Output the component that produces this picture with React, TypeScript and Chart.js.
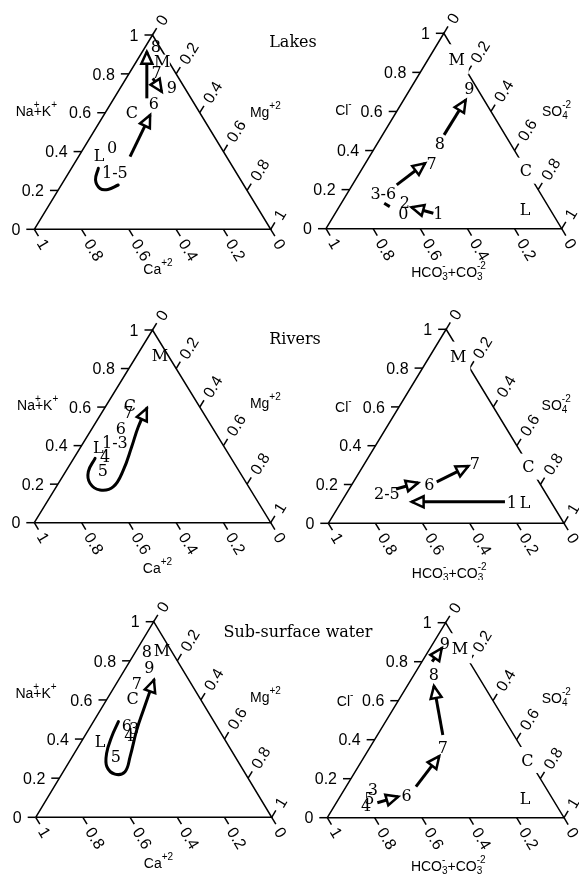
import React, { useEffect, useRef } from "react";
import { Chart, registerables } from "chart.js";
Chart.register(...registerables);

// ---------------- DATA ----------------
const tickValues = [0, 0.2, 0.4, 0.6, 0.8, 1];
const tickLabels = ["0", "0.2", "0.4", "0.6", "0.8", "1"];
const panelTitles = ["Lakes", "Rivers", "Sub-surface water"];

// Lakes — cations: fractions [Na+K (top), Mg (right)], Ca = remainder
const lakesCatLabels = ["8", "M", "7", "9", "6", "C", "L", "0", "1-5"];
const lakesCatNaK = [0.94, 0.863, 0.811, 0.731, 0.648, 0.605, 0.382, 0.425, 0.296];
const lakesCatMg = [0.044, 0.11, 0.112, 0.216, 0.182, 0.11, 0.083, 0.117, 0.193];
const lakesCatPaths = [
  [[0.674, 0.139], [0.914, 0.019]],
  [[0.777, 0.113], [0.708, 0.185]],
  [[0.374, 0.218], [0.588, 0.196]],
  [[0.314, 0.114], [0.254, 0.132], [0.21, 0.173], [0.205, 0.209], [0.228, 0.241]],
];
const lakesCatArrows = [true, true, true, false];

// Lakes — anions: fractions [Cl (top), SO4 (right)], HCO3+CO3 = remainder
const lakesAnLabels = ["M", "9", "8", "7", "C", "3-6", "2", "0", "1", "L"];
const lakesAnCl = [0.867, 0.719, 0.437, 0.335, 0.297, 0.184, 0.138, 0.079, 0.079, 0.099];
const lakesAnSO4 = [0.121, 0.249, 0.265, 0.281, 0.7, 0.151, 0.266, 0.289, 0.437, 0.795];
const lakesAnPaths = [
  [[0.224, 0.188], [0.335, 0.253]],
  [[0.48, 0.261], [0.659, 0.263]],
  [[0.079, 0.416], [0.11, 0.308]],
  [[0.13, 0.182], [0.113, 0.214]],
];
const lakesAnArrows = [true, true, true, false];

// Rivers — cations
const riversCatLabels = ["M", "C", "7", "6", "1-3", "L", "4", "5"];
const riversCatNaK = [0.87, 0.611, 0.576, 0.49, 0.42, 0.394, 0.343, 0.274];
const riversCatMg = [0.097, 0.099, 0.11, 0.121, 0.131, 0.074, 0.128, 0.153];
const riversCatPaths = [
  [[0.334, 0.09], [0.265, 0.096], [0.205, 0.133], [0.17, 0.193], [0.187, 0.241], [0.274, 0.24], [0.394, 0.215], [0.498, 0.191], [0.594, 0.179]],
];
const riversCatArrows = [true];

// Rivers — anions
const riversAnLabels = ["M", "7", "C", "6", "2-5", "1", "L"];
const riversAnCl = [0.859, 0.312, 0.292, 0.201, 0.155, 0.111, 0.111];
const riversAnSO4 = [0.122, 0.466, 0.703, 0.328, 0.171, 0.723, 0.779];
const riversAnPaths = [
  [[0.214, 0.353], [0.295, 0.447]],
  [[0.177, 0.199], [0.209, 0.277]],
  [[0.111, 0.694], [0.111, 0.298]],
];
const riversAnArrows = [true, true, true];

// Sub-surface water — cations
const subCatLabels = ["8", "M", "9", "7", "C", "6", "3", "4", "L", "5"];
const subCatNaK = [0.847, 0.855, 0.767, 0.685, 0.608, 0.472, 0.455, 0.421, 0.387, 0.31];
const subCatMg = [0.047, 0.107, 0.098, 0.086, 0.107, 0.15, 0.189, 0.186, 0.079, 0.185];
const subCatPaths = [
  [[0.489, 0.106], [0.412, 0.116], [0.327, 0.137], [0.259, 0.172], [0.221, 0.225], [0.233, 0.262], [0.31, 0.245], [0.446, 0.205], [0.549, 0.182], [0.702, 0.15]],
];
const subCatArrows = [true];

// Sub-surface water — anions
const subAnLabels = ["9", "M", "8", "7", "C", "3", "5", "4", "6", "L"];
const subAnCl = [0.894, 0.869, 0.737, 0.364, 0.296, 0.146, 0.1, 0.065, 0.116, 0.1];
const subAnSO4 = [0.05, 0.126, 0.082, 0.306, 0.697, 0.119, 0.128, 0.131, 0.277, 0.786];
const subAnPaths = [
  [[0.077, 0.173], [0.108, 0.246]],
  [[0.159, 0.295], [0.316, 0.315]],
  [[0.424, 0.276], [0.675, 0.113]],
  [[0.8, 0.043], [0.869, 0.049]],
];
const subAnArrows = [true, true, true, true];

// ---------------- STYLE / LAYOUT ----------------
const SERIF = "'DejaVu Serif', 'Liberation Serif', serif";
const SANS = "'Liberation Sans', Arial, Helvetica, sans-serif";
const TICK = 8;
const GAP = 5;
const SUP_RAISE = 8;

type Seg = { t?: string; sup?: string; sub?: string; noAdvance?: boolean };
const cationAxis: { left: Seg[]; right: Seg[]; bottom: Seg[] } = {
  left: [{ t: "Na" }, { sup: "+", noAdvance: true }, { t: "+K" }, { sup: "+" }],
  right: [{ t: "Mg" }, { sup: "+2" }],
  bottom: [{ t: "Ca" }, { sup: "+2" }],
};
const anionAxis: { left: Seg[]; right: Seg[]; bottom: Seg[] } = {
  left: [{ t: "Cl" }, { sup: "-" }],
  right: [{ t: "SO" }, { sub: "4", sup: "-2" }],
  bottom: [{ t: "HCO" }, { sub: "3", sup: "-" }, { t: "+CO" }, { sub: "3", sup: "-2" }],
};

interface Spec {
  key: string;
  axis: { left: Seg[]; right: Seg[]; bottom: Seg[] };
  labels: string[];
  tops: number[];
  rights: number[];
  paths: number[][][];
  arrows: boolean[];
  canvas: [number, number, number, number];
  tri: [number, number, number, number];
  titlePos: { left: [number, number]; right: [number, number]; bottom: [number, number] };
  boxes: Record<string, [number, number]>;
}

const anionBoxes: Record<string, [number, number]> = { M: [24, 30], C: [22, 26] };

const specs: Spec[] = [
  {
    key: "lc", axis: cationAxis, labels: lakesCatLabels, tops: lakesCatNaK, rights: lakesCatMg,
    paths: lakesCatPaths, arrows: lakesCatArrows,
    canvas: [0, 0, 290, 290], tri: [34.3, 270.7, 229.3, 194.3],
    titlePos: { left: [0.096, 0.609], right: [0.912, 0.605], bottom: [0.523, -0.204] },
    boxes: { M: [15, 14] },
  },
  {
    key: "la", axis: anionAxis, labels: lakesAnLabels, tops: lakesAnCl, rights: lakesAnSO4,
    paths: lakesAnPaths, arrows: lakesAnArrows,
    canvas: [290, 0, 289, 290], tri: [326, 561.7, 228.7, 195.4],
    titlePos: { left: [0.109, 0.607], right: [0.916, 0.604], bottom: [0.52, -0.223] },
    boxes: anionBoxes,
  },
  {
    key: "rc", axis: cationAxis, labels: riversCatLabels, tops: riversCatNaK, rights: riversCatMg,
    paths: riversCatPaths, arrows: riversCatArrows,
    canvas: [0, 290, 290, 290], tri: [34.3, 270.7, 522.7, 192.7],
    titlePos: { left: [0.1015, 0.611], right: [0.912, 0.621], bottom: [0.521, -0.235] },
    boxes: {},
  },
  {
    key: "ra", axis: anionAxis, labels: riversAnLabels, tops: riversAnCl, rights: riversAnSO4,
    paths: riversAnPaths, arrows: riversAnArrows,
    canvas: [290, 290, 289, 290], tri: [328.3, 564, 523.3, 194],
    titlePos: { left: [0.099, 0.601], right: [0.905, 0.61], bottom: [0.513, -0.256] },
    boxes: anionBoxes,
  },
  {
    key: "sc", axis: cationAxis, labels: subCatLabels, tops: subCatNaK, rights: subCatMg,
    paths: subCatPaths, arrows: subCatArrows,
    canvas: [0, 580, 290, 295], tri: [35.7, 271.7, 817.3, 195.6],
    titlePos: { left: [0.089, 0.635], right: [0.908, 0.617], bottom: [0.52, -0.234] },
    boxes: {},
  },
  {
    key: "sa", axis: anionAxis, labels: subAnLabels, tops: subAnCl, rights: subAnSO4,
    paths: subAnPaths, arrows: subAnArrows,
    canvas: [290, 580, 289, 295], tri: [327.3, 564, 817.7, 195],
    titlePos: { left: [0.11, 0.6], right: [0.906, 0.612], bottom: [0.511, -0.248] },
    boxes: anionBoxes,
  },
];

const titleCenters: [number, number][] = [[293, 43], [295, 340], [298, 633]];

// ternary (top, right) -> plot coords; left vertex (0,0), right vertex (1,0), apex (0.5,1)
const toXY = (top: number, right: number) => ({ x: right + top / 2, y: top });

function segWidth(ctx: CanvasRenderingContext2D, s: Seg, main: string, small: string) {
  if (s.t) {
    ctx.font = main;
    return ctx.measureText(s.t).width;
  }
  if (s.noAdvance) return 0;
  ctx.font = small;
  return Math.max(s.sup ? ctx.measureText(s.sup).width : 0, s.sub ? ctx.measureText(s.sub).width : 0);
}

function richWidth(ctx: CanvasRenderingContext2D, segs: Seg[], main: string, small: string) {
  let w = 0;
  for (const s of segs) w += segWidth(ctx, s, main, small);
  return w;
}

function drawRich(ctx: CanvasRenderingContext2D, segs: Seg[], x: number, baseline: number, main: string, small: string) {
  let cx = x;
  ctx.textAlign = "left";
  ctx.textBaseline = "alphabetic";
  for (const s of segs) {
    if (s.t) {
      ctx.font = main;
      ctx.fillText(s.t, cx, baseline);
    } else {
      ctx.font = small;
      if (s.sup) ctx.fillText(s.sup, cx, baseline - SUP_RAISE);
      if (s.sub) ctx.fillText(s.sub, cx, baseline + 3);
    }
    cx += segWidth(ctx, s, main, small);
  }
}

function makePlugin(spec: Spec) {
  return {
    id: "ternary_" + spec.key,
    afterDatasetsDraw(chart: any) {
      const ctx: CanvasRenderingContext2D = chart.ctx;
      const xs = chart.scales.x;
      const ys = chart.scales.y;
      const P = (x: number, y: number): [number, number] => [xs.getPixelForValue(x), ys.getPixelForValue(y)];
      const A = P(0, 0);
      const B = P(1, 0);
      const C = P(0.5, 1);
      const norm = (dx: number, dy: number): [number, number] => {
        const l = Math.hypot(dx, dy);
        return [dx / l, dy / l];
      };
      const dUp = norm(C[0] - A[0], C[1] - A[1]);
      const dDown = norm(B[0] - C[0], B[1] - C[1]);
      ctx.save();
      ctx.strokeStyle = "#000";
      ctx.fillStyle = "#000";
      ctx.lineWidth = 1.5;
      ctx.lineCap = "butt";
      const seg = (p: number[], q: number[]) => {
        ctx.beginPath();
        ctx.moveTo(p[0], p[1]);
        ctx.lineTo(q[0], q[1]);
        ctx.stroke();
      };
      const tickFont = "16px " + SANS;
      const rotText = (txt: string, x: number, y: number, ang: number) => {
        ctx.save();
        ctx.translate(x, y);
        ctx.rotate(ang);
        ctx.font = tickFont;
        ctx.textAlign = "left";
        ctx.textBaseline = "alphabetic";
        ctx.fillText(txt, 0, 5.7);
        ctx.restore();
      };
      for (let i = 0; i < tickValues.length; i++) {
        const v = tickValues[i];
        const txt = tickLabels[i];
        // left axis (top component)
        let p = P(v / 2, v);
        seg(p, [p[0] - TICK, p[1]]);
        ctx.font = tickFont;
        ctx.textAlign = "right";
        ctx.textBaseline = "alphabetic";
        ctx.fillText(txt, p[0] - TICK - GAP - 1, p[1] + 5.7);
        // right axis (right component)
        p = P(v + (1 - v) / 2, 1 - v);
        let e = [p[0] + dUp[0] * TICK, p[1] + dUp[1] * TICK];
        seg(p, e);
        rotText(txt, e[0] + dUp[0] * GAP, e[1] + dUp[1] * GAP, Math.atan2(dUp[1], dUp[0]));
        // bottom axis (left component)
        p = P(1 - v, 0);
        e = [p[0] + dDown[0] * TICK, p[1] + dDown[1] * TICK];
        seg(p, e);
        rotText(txt, e[0] + dDown[0] * GAP, e[1] + dDown[1] * GAP, Math.atan2(dDown[1], dDown[0]));
      }
      // axis titles
      const main = "14px " + SANS;
      const small = "10px " + SANS;
      const tp = spec.titlePos;
      let q = P(tp.left[0], tp.left[1]);
      let w = richWidth(ctx, spec.axis.left, main, small);
      drawRich(ctx, spec.axis.left, q[0] - w, q[1] + 5, main, small);
      q = P(tp.right[0], tp.right[1]);
      drawRich(ctx, spec.axis.right, q[0], q[1] + 5, main, small);
      q = P(tp.bottom[0], tp.bottom[1]);
      w = richWidth(ctx, spec.axis.bottom, main, small);
      drawRich(ctx, spec.axis.bottom, q[0] - w / 2, q[1] + 5, main, small);

      // arrowheads
      chart.data.datasets.forEach((ds: any, idx: number) => {
        if (!ds._arrow) return;
        const pts = chart.getDatasetMeta(idx).data;
        const n = pts.length;
        const tip = pts[n - 1];
        let fx = pts[n - 2].x;
        let fy = pts[n - 2].y;
        if (typeof tip.cp1x === "number" && Math.hypot(tip.x - tip.cp1x, tip.y - tip.cp1y) > 0.5) {
          fx = tip.cp1x;
          fy = tip.cp1y;
        }
        const d = norm(tip.x - fx, tip.y - fy);
        const len = 12;
        const hw = 5.5;
        const bx = tip.x - d[0] * len;
        const by = tip.y - d[1] * len;
        ctx.beginPath();
        ctx.moveTo(tip.x, tip.y);
        ctx.lineTo(bx - d[1] * hw, by + d[0] * hw);
        ctx.lineTo(bx + d[1] * hw, by - d[0] * hw);
        ctx.closePath();
        ctx.fillStyle = "#fff";
        ctx.fill();
        ctx.lineWidth = 2.5;
        ctx.lineJoin = "miter";
        ctx.strokeStyle = "#000";
        ctx.stroke();
      });

      // labels
      chart.data.datasets.forEach((ds: any, idx: number) => {
        if (!ds._labels) return;
        const pts = chart.getDatasetMeta(idx).data;
        pts.forEach((el: any, k: number) => {
          const b = spec.boxes[ds._labels[k]];
          if (b) {
            ctx.fillStyle = "#fff";
            ctx.fillRect(el.x - b[0] / 2, el.y - b[1] / 2, b[0], b[1]);
          }
        });
        ctx.fillStyle = "#000";
        ctx.font = "16px " + SERIF;
        ctx.textAlign = "center";
        ctx.textBaseline = "alphabetic";
        pts.forEach((el: any, k: number) => {
          ctx.fillText(ds._labels[k], el.x, el.y + 5.8);
        });
      });
      ctx.restore();
    },
  };
}

function Ternary({ spec }: { spec: Spec }) {
  const ref = useRef<HTMLCanvasElement>(null);
  useEffect(() => {
    const [cl, ct, cw, ch] = spec.canvas;
    const [L, R, base, H] = spec.tri;
    const W = R - L;
    const Lc = L - cl;
    const Bc = base - ct;
    const xmin = -Lc / W;
    const xmax = (cw - Lc) / W;
    const ymax = Bc / H;
    const ymin = (Bc - ch) / H;
    const datasets: any[] = [];
    datasets.push({
      data: [toXY(0, 0), toXY(0, 1), toXY(1, 0), toXY(0, 0)],
      showLine: true,
      borderColor: "#000",
      borderWidth: 1.5,
      pointRadius: 0,
      tension: 0,
      borderJoinStyle: "miter",
    });
    spec.paths.forEach((path, i) => {
      datasets.push({
        data: path.map(([t, r]) => toXY(t, r)),
        showLine: true,
        borderColor: "#000",
        borderWidth: 3,
        pointRadius: 0,
        tension: path.length > 2 ? 0.4 : 0,
        borderCapStyle: path.length > 2 ? "round" : "butt",
        _arrow: spec.arrows[i],
      });
    });
    datasets.push({
      data: spec.labels.map((_, i) => toXY(spec.tops[i], spec.rights[i])),
      showLine: false,
      pointRadius: 0,
      _labels: spec.labels,
    });
    const chart = new Chart(ref.current as HTMLCanvasElement, {
      type: "scatter",
      data: { datasets },
      options: {
        animation: false,
        responsive: false,
        maintainAspectRatio: false,
        devicePixelRatio: 1,
        events: [],
        layout: { padding: 0 },
        plugins: { legend: { display: false }, tooltip: { enabled: false }, title: { display: false } },
        scales: {
          x: { type: "linear", min: xmin, max: xmax, display: false },
          y: { type: "linear", min: ymin, max: ymax, display: false },
        },
      } as any,
      plugins: [makePlugin(spec) as any],
    });
    return () => chart.destroy();
  }, [spec]);
  const [cl, ct, cw, ch] = spec.canvas;
  return (
    <canvas
      ref={ref}
      width={cw}
      height={ch}
      style={{ position: "absolute", left: cl, top: ct, width: cw, height: ch }}
    />
  );
}

export default function App() {
  return (
    <div style={{ position: "absolute", left: 0, top: 0, width: 579, height: 875, background: "#fff", overflow: "hidden" }}>
      {specs.map((s) => (
        <Ternary key={s.key} spec={s} />
      ))}
      {panelTitles.map((t, i) => (
        <div
          key={t}
          style={{
            position: "absolute",
            left: titleCenters[i][0] - 120,
            top: titleCenters[i][1] - 11,
            width: 240,
            height: 22,
            lineHeight: "22px",
            textAlign: "center",
            font: "16px " + SERIF,
            color: "#000",
            whiteSpace: "nowrap",
          }}
        >
          {t}
        </div>
      ))}
    </div>
  );
}
